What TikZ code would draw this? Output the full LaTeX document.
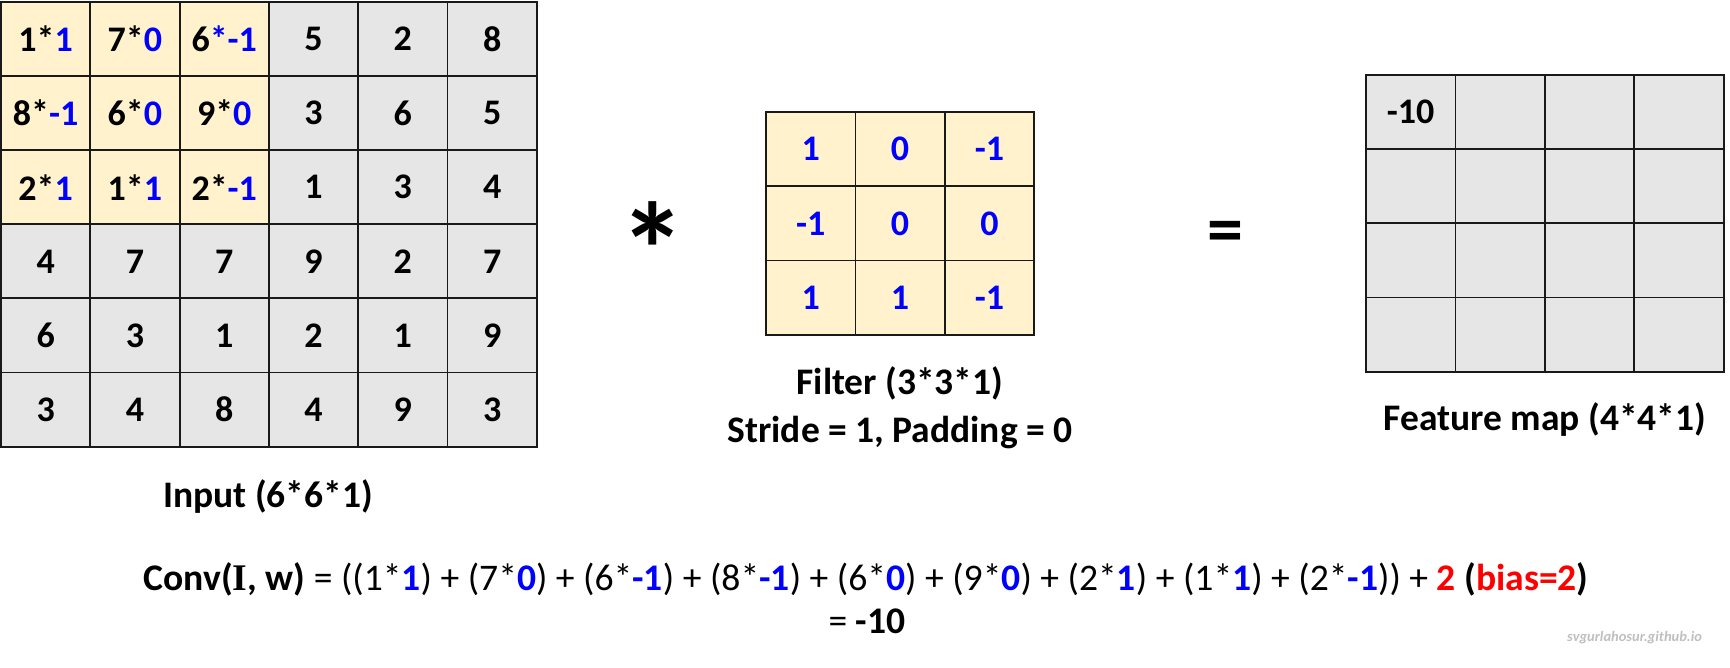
\documentclass[tikz,border=0pt]{standalone}
\usepackage{fontspec}
\setmainfont{Carlito}
\newfontfamily\serifI{Liberation Serif}
\definecolor{fblue}{RGB}{0,0,255}
\definecolor{fred}{RGB}{255,0,0}
\definecolor{fyel}{RGB}{255,242,204}
\definecolor{fgray}{RGB}{230,230,230}
\definecolor{wgray}{RGB}{191,191,191}
\newcommand\bl[1]{\textcolor{fblue}{#1}}
\newcommand\rd[1]{\textcolor{fred}{#1}}
\newcommand\fs[1]{\fontsize{#1}{#1}\selectfont}
\begin{document}
\begin{tikzpicture}[x=1pt,y=-1pt,
  incell/.style={draw=black!90, line width=1.8pt, minimum width=89.3pt, minimum height=74.1pt,
    inner sep=0pt, font=\bfseries\fs{36}},
  fcell/.style={draw=black!90, line width=1.8pt, minimum width=89.4pt, minimum height=74.3pt,
    inner sep=0pt, fill=fyel, text=fblue, font=\bfseries\fs{36}},
  mcell/.style={draw=black!90, line width=1.8pt, minimum width=89.4pt, minimum height=74.2pt,
    inner sep=0pt, fill=fgray, font=\bfseries\fs{36}},
  lbl/.style={anchor=base, inner sep=0pt, font=\bfseries\fs{37.5}},
  eq/.style={anchor=base, inner sep=0pt, font=\fs{37.6}}
]
\useasboundingbox (0,0) rectangle (1730,668);
\newcommand\inrow[2]{%
  \foreach \t [count=\c from 0] in {#2} {
    \ifnum\c<3 \ifnum#1<3 \def\cf{fyel}\else\def\cf{fgray}\fi\else\def\cf{fgray}\fi
    \node[incell, fill=\cf] (in-#1-\c) at ({1+89.3*(\c+0.5)}, {2+74.1*(#1+0.5)}) {\t};
  }}
% input grid
\inrow{0}{1*\bl{1}, 7*\bl{0}, 6\bl{*-1}, 5, 2, 8}
\inrow{1}{8*\bl{-1}, 6*\bl{0}, 9*\bl{0}, 3, 6, 5}
\inrow{2}{2*\bl{1}, 1*\bl{1}, 2*\bl{-1}, 1, 3, 4}
\inrow{3}{4, 7, 7, 9, 2, 7}
\inrow{4}{6, 3, 1, 2, 1, 9}
\inrow{5}{3, 4, 8, 4, 9, 3}
% filter
\foreach \t [count=\i from 0] in {1, 0, -1, -1, 0, 0, 1, 1, -1} {
  \pgfmathtruncatemacro\r{int(\i/3)}
  \pgfmathtruncatemacro\c{\i-3*\r}
  \node[fcell] (f-\r-\c) at ({766+89.4*(\c+0.5)}, {112+74.3*(\r+0.5)}) {\t};
}
% feature map
\foreach \r in {0,...,3} {
  \foreach \c in {0,...,3} {
    \node[mcell] (m-\r-\c) at ({1366+89.4*(\c+0.5)}, {75+74.2*(\r+0.5)}) {};
  }
}
\node[font=\bfseries\fs{36}, inner sep=0pt] (mval) at (m-0-0) {-10};
% operators
\node[anchor=base, inner sep=0pt, font=\bfseries\fs{134}] (star) at (653,298) {*};
\node[anchor=base, inner sep=0pt, font=\bfseries\fs{72}] (equal) at (1225,254) {=};
% labels
\node[lbl] (linput) at (268,507) {Input (6*6*1)};
\node[lbl] (lfilter) at (900,395) {Filter (3*3*1)};
\node[lbl] (lstride) at (900,442) {Stride = 1, Padding = 0};
\node[lbl] (lfeat) at (1545,430) {Feature map (4*4*1)};
% formula
\node[eq] (form1) at (866,590) {\textbf{Conv({\serifI I}, w)} = ((1*\textbf{\bl{1}}) + (7*\textbf{\bl{0}}) + (6*\textbf{\bl{-1}}) + (8*\textbf{\bl{-1}}) + (6*\textbf{\bl{0}}) + (9*\textbf{\bl{0}}) + (2*\textbf{\bl{1}}) + (1*\textbf{\bl{1}}) + (2*\textbf{\bl{-1}})) + \textbf{\rd{2} (\rd{bias=2})}};
\node[eq] (form2) at (867,633) {= \textbf{-10}};
% watermark
\node[anchor=base west, inner sep=0pt, text=wgray, font=\bfseries\itshape\fs{14.5}] (wm) at (1567,641) {svgurlahosur.github.io};
\end{tikzpicture}
\end{document}
